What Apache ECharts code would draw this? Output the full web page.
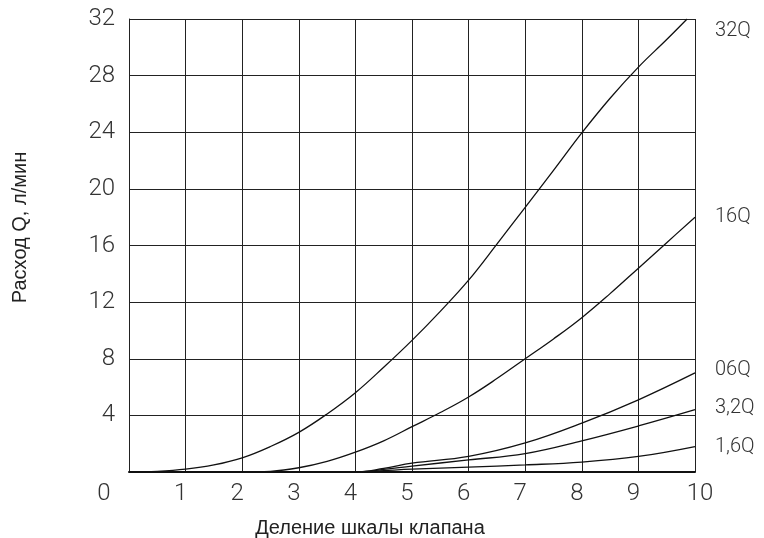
<!DOCTYPE html>
<html><head><meta charset="utf-8">
<script src="https://cdn.jsdelivr.net/npm/echarts@6/dist/echarts.min.js"></script>
<style>html,body{margin:0;padding:0;background:#fff}#c{width:764px;height:538px}</style>
</head><body><div id="c"></div>
<script>
const xTicks = [0,1,2,3,4,5,6,7,8,9,10];
const yTicks = [0,4,8,12,16,20,24,28,32];
const seriesNames = ['32Q','16Q','06Q','3,2Q','1,6Q'];
const q32x = [0,0.5,1,1.5,2,2.5,3,3.5,4,4.5,5,5.5,6,6.5,7,7.5,8,8.5,9,9.5,9.86];
const q32y = [0,0.05,0.2,0.5,1.0,1.8,2.8,4.1,5.6,7.4,9.3,11.35,13.55,16.1,18.7,21.3,23.95,26.4,28.6,30.55,32];
const q16x = [0,1,2,2.5,3,3.5,4,4.5,5,5.5,6,6.5,7,7.5,8,8.5,9,9.5,10];
const q16y = [0,0,0,0.05,0.3,0.75,1.4,2.2,3.2,4.2,5.3,6.6,8.0,9.4,10.9,12.6,14.4,16.2,18];
const smallX = [0,1,2,3,4,4.5,5,6,7,8,9,10];
const q06y  = [0,0,0,0,0,0.25,0.62,1.1,2.05,3.45,5.1,7.0];
const q32sy = [0,0,0,0,0,0.18,0.42,0.85,1.3,2.2,3.25,4.4];
const q16sy = [0,0,0,0,0,0.1,0.2,0.35,0.5,0.7,1.1,1.8];

const pairs = (xs, ys) => xs.map((x,i)=>[x, ys[i]]);
const dataSets = [pairs(q32x,q32y), pairs(q16x,q16y), pairs(smallX,q06y), pairs(smallX,q32sy), pairs(smallX,q16sy)];
const labelOffsets = [[20,12],[12,0],[12,-3],[12,-2],[12,0]];
const techFont = 'Roboto, "DejaVu Sans", sans-serif';
const tick = {fontFamily:techFont, fontWeight:300, fontSize:24, color:'#333'};

const chart = echarts.init(document.getElementById('c'), null, {renderer:'canvas'});
chart.setOption({
  animation:false,
  grid:{left:129, right:69, top:19, bottom:66, containLabel:false, outerBoundsMode:'none'},
  xAxis:{
    type:'value', min:0, max:10, interval:1,
    name:'Деление шкалы клапана', nameLocation:'middle', nameGap:46,
    nameTextStyle:{fontFamily:'Liberation Sans', fontSize:20, color:'#222', padding:[0,84,0,0]},
    axisLine:{show:true, lineStyle:{color:'#111', width:2}},
    axisTick:{show:false},
    axisLabel:Object.assign({margin:10,
      formatter:v=> v===0 ? '{z|0}' : (v===10 ? '{t|10}' : '{n|'+v+'}'),
      rich:{
        z:Object.assign({padding:[0,50,0,0]}, tick),
        t:Object.assign({padding:[0,0,0,10]}, tick),
        n:Object.assign({padding:[0,10,0,0]}, tick)
      }}, tick),
    splitLine:{show:true, lineStyle:{color:'#222', width:1}}
  },
  yAxis:{
    type:'value', min:0, max:32, interval:4,
    name:'Расход Q, л/мин', nameLocation:'middle', nameGap:99, nameRotate:90,
    nameTextStyle:{fontFamily:'Liberation Sans', fontSize:20, color:'#222', padding:[0,0,0,36]},
    axisLine:{show:true, lineStyle:{color:'#222', width:1}},
    axisTick:{show:false},
    axisLabel:Object.assign({margin:14, formatter:v=> v===0 ? '' : String(v)}, tick),
    splitLine:{show:true, lineStyle:{color:'#222', width:1}}
  },
  series: seriesNames.map((n,i)=>({
    name:n, type:'line', data:dataSets[i], smooth:0.4, symbol:'none',
    lineStyle:{color:'#111', width:1.3},
    endLabel:{show:true, formatter:n, fontFamily:techFont, fontWeight:300, fontSize:20, color:'#333',
      offset:labelOffsets[i], align:'left'}
  }))
});
</script></body></html>
